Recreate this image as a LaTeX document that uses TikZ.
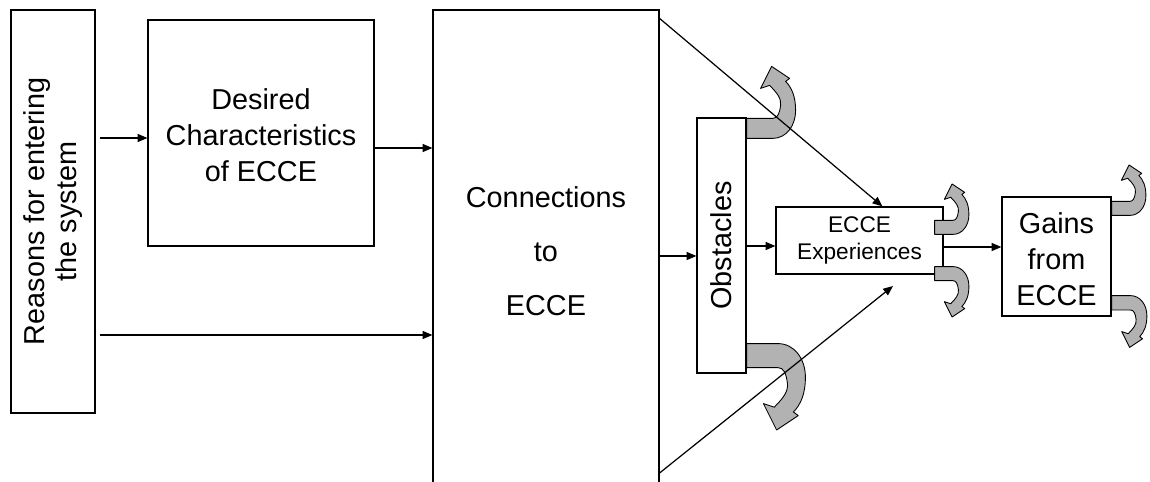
\documentclass[tikz,border=0pt]{standalone}
\usepackage{fontspec}
\setmainfont{Liberation Sans}
\usetikzlibrary{arrows.meta,calc}
\begin{document}
\begin{tikzpicture}[x=0.02cm,y=-0.02cm,
  box/.style={draw, line width=0.7pt, inner sep=0pt, fill=white},
  big/.style={font=\fontsize{16.4}{20.4}\selectfont, align=center, inner sep=0pt},
  arr/.style={-{Triangle[length=5.6pt,width=4.6pt]}, line width=0.7pt},
  uturnfill/.style={fill=black!30, draw=black, line width=0.5pt, line join=round},
  uturn/.pic={
    \path[uturnfill] (0,0) -- (26,0)
      .. controls (40,0) and (49,13) .. (49,28)
      .. controls (49,42) and (45,51) .. (39,57)
      -- (43,60) -- (25,72) -- (14,50) -- (23,53)
      .. controls (30,46) and (35,40) .. (34,33)
      .. controls (33,25) and (31,20) .. (26,20)
      -- (0,20) -- cycle;
  }]
\useasboundingbox (0,0) rectangle (1150,482);
\clip (0,0) rectangle (1150,482);

% boxes
\node[box, minimum width=1.68cm, minimum height=8.06cm] (reasons) at (53,211.5) {};
\node[big, rotate=90, font=\fontsize{16.4}{18.2}\selectfont] (reasonstext) at (reasons.center) {Reasons for entering\\the system};

\node[box, minimum width=4.52cm, minimum height=4.52cm] (desired) at (261,133) {};
\node[big] (desiredtext) at (261,135) {Desired\\Characteristics\\of ECCE};

\node[box, minimum width=4.52cm, minimum height=9.64cm] (conn) at (546,251) {};
\node[big, font=\fontsize{16.4}{30.6}\selectfont] (conntext) at (546,251) {Connections\\to\\ECCE};

\node[box, minimum width=0.98cm, minimum height=5.1cm] (obst) at (721.5,245.5) {};
\node[big, rotate=90] (obsttext) at (obst.center) {Obstacles};

\node[box, minimum width=3.34cm, minimum height=1.34cm] (exp) at (859.5,240.5) {};
\node[big, font=\fontsize{12.9}{15.3}\selectfont] (exptext) at (exp.center) {ECCE\\Experiences};

\node[box, minimum width=2.18cm, minimum height=2.38cm] (gains) at (1056.5,256.5) {};
\node[big] (gainstext) at (1056.5,259) {Gains\\from\\ECCE};

% curved return arrows
\pic[yscale=-1] at ($(obst.north east)+(0,21)$) {uturn};
\pic[xscale=1.2,yscale=1.2] at ($(obst.south east)+(0,-30)$) {uturn};
\pic[xscale=0.7,yscale=-0.7] at ($(exp.north east)+(-9,28)$) {uturn};
\pic[xscale=0.7,yscale=0.7] at ($(exp.south east)+(-9,-8)$) {uturn};
\pic[xscale=0.7,yscale=-0.7] at ($(gains.north east)+(0,19)$) {uturn};
\pic[xscale=0.72,yscale=0.72] at ($(gains.south east)+(0,-21)$) {uturn};

% connectors
\coordinate (lowend) at (893,286);
\draw[arr] ($(reasons.east |- 0,138)+(4,0)$) -- (desired.west |- 0,138);
\draw[arr] (desired.east |- 0,148) -- (conn.west |- 0,148);
\draw[arr] ($(reasons.east |- 0,335)+(4,0)$) -- (conn.west |- 0,335);
\draw[arr] (conn.east |- 0,256) -- (obst.west |- 0,256);
\draw[arr] (obst.east |- 0,246) -- (exp.west |- 0,246);
\draw[arr] (exp.east |- 0,247) -- (gains.west |- 0,247);
\draw[arr] ($(conn.north east)+(0,9)$) -- ($(exp.north west)+(107,0)$);
\draw[arr] (conn.east |- 0,473) -- (lowend);
\end{tikzpicture}
\end{document}
